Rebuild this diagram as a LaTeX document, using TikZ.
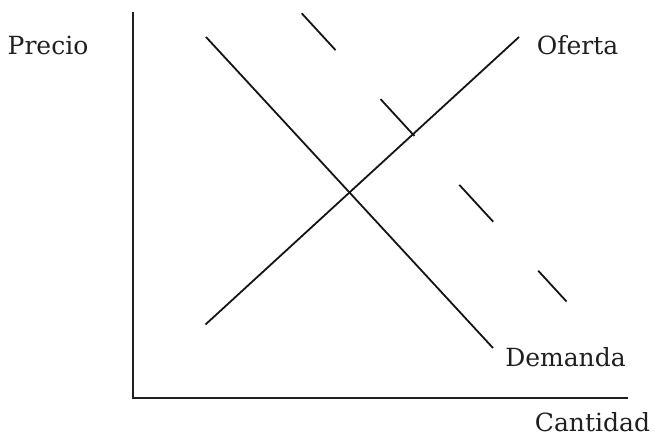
\documentclass[tikz,border=0pt]{standalone}
\usepackage{fontspec}
\setmainfont{DejaVu Serif}
\begin{document}
\begin{tikzpicture}[x=1pt,y=-1pt,
  curve/.style={line width=1.8pt,color=black!92},
  axis/.style={line width=2.2pt,color=black!88},
  lbl/.style={anchor=base,inner sep=0pt,font=\fontsize{25}{28}\selectfont,color=black!88}]
\useasboundingbox (0,0) rectangle (654,437);
% axes
\coordinate (ytop) at (133,12);
\coordinate (orig) at (133,398);
\coordinate (xend) at (628,398);
\draw[axis] (ytop) -- (orig) -- (xend);
% demand
\coordinate (d1) at (206,37);
\coordinate (d2) at (493,348);
\draw[curve] (d1) -- (d2);
% supply
\coordinate (s1) at (205.5,324.5);
\coordinate (s2) at (519,37);
\draw[curve] (s1) -- (s2);
% shifted demand (dashed)
\coordinate (n1) at (301.7,13.3);
\coordinate (n2) at (566.5,301.5);
\draw[curve,dash pattern=on 50pt off 66.5pt] (n1) -- (n2);
% labels
\node[lbl] (precio) at (48,54) {Precio};
\node[lbl] (oferta) at (577.5,54) {Oferta};
\node[lbl] (demanda) at (565.5,366.5) {Demanda};
\node[lbl] (cantidad) at (592.5,431) {Cantidad};
\end{tikzpicture}
\end{document}
